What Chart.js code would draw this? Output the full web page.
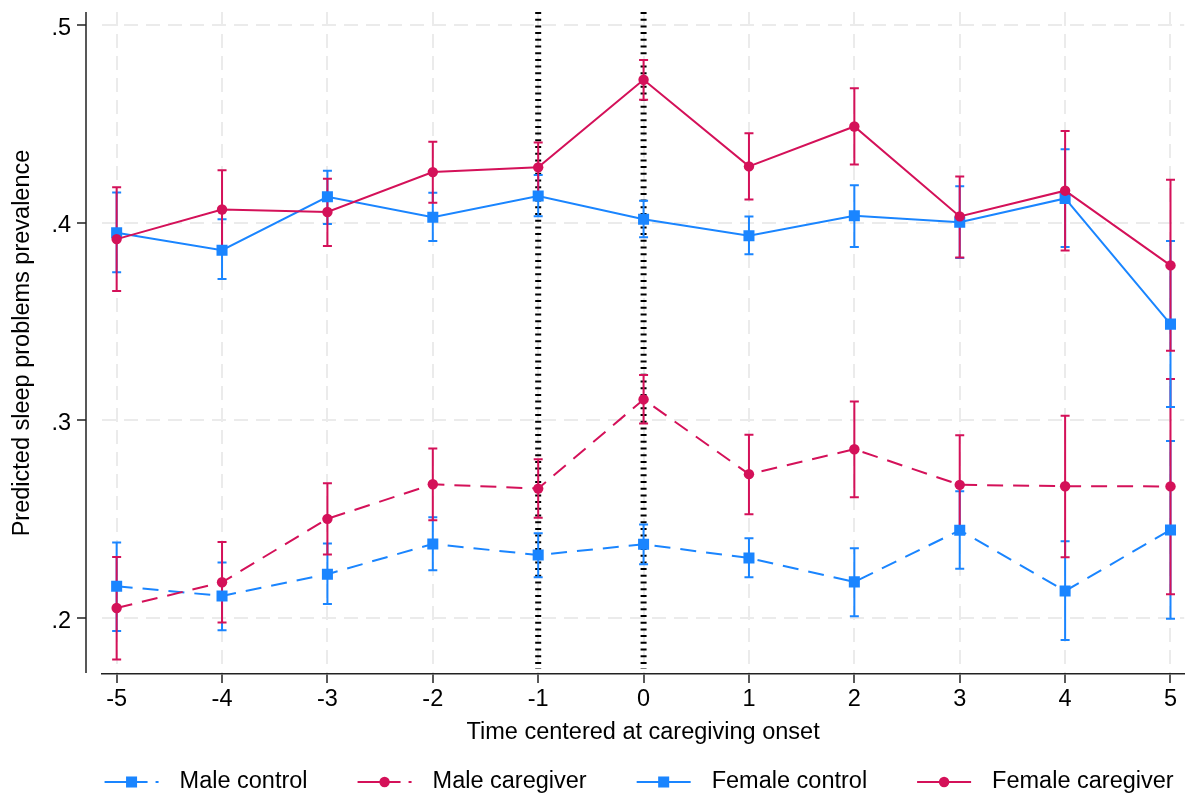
<!DOCTYPE html>
<html>
<head>
<meta charset="utf-8">
<script src="https://cdn.jsdelivr.net/npm/chart.js@4.4.1/dist/chart.umd.min.js"></script>
<style>
  html, body { margin: 0; padding: 0; background: #ffffff; }
  canvas { display: block; }
</style>
</head>
<body>
<canvas id="chart" width="1192" height="798"></canvas>
<script>
// Years relative to caregiving onset
const periods = [-5, -4, -3, -2, -1, 0, 1, 2, 3, 4, 5];

// Predicted prevalence of sleep problems with 95% confidence bounds
const maleControl      = [0.2161, 0.2112, 0.2222, 0.2375, 0.2319, 0.2373, 0.2304, 0.2183, 0.2444, 0.2137, 0.2446];
const maleControlLow   = [0.1935, 0.1938, 0.2071, 0.2242, 0.2206, 0.2272, 0.2206, 0.2009, 0.2249, 0.1889, 0.1996];
const maleControlHigh  = [0.2382, 0.2281, 0.2377, 0.2510, 0.2429, 0.2473, 0.2404, 0.2353, 0.2642, 0.2389, 0.2896];

const maleCaregiver     = [0.2051, 0.2181, 0.2502, 0.2677, 0.2655, 0.3106, 0.2728, 0.2854, 0.2674, 0.2667, 0.2666];
const maleCaregiverLow  = [0.1790, 0.1977, 0.2321, 0.2495, 0.2507, 0.2984, 0.2525, 0.2611, 0.2426, 0.2308, 0.2120];
const maleCaregiverHigh = [0.2309, 0.2385, 0.2682, 0.2858, 0.2804, 0.3229, 0.2927, 0.3096, 0.2925, 0.3023, 0.3209];

const femaleControl     = [0.3949, 0.3861, 0.4131, 0.4028, 0.4135, 0.4018, 0.3934, 0.4035, 0.4003, 0.4123, 0.3487];
const femaleControlLow  = [0.3750, 0.3715, 0.3993, 0.3908, 0.4033, 0.3927, 0.3840, 0.3877, 0.3822, 0.3877, 0.3068];
const femaleControlHigh = [0.4153, 0.4017, 0.4263, 0.4151, 0.4241, 0.4111, 0.4032, 0.4189, 0.4184, 0.4372, 0.3908];

const femaleCaregiver     = [0.3917, 0.4067, 0.4054, 0.4256, 0.4280, 0.4723, 0.4285, 0.4487, 0.4032, 0.4162, 0.3784];
const femaleCaregiverLow  = [0.3654, 0.3875, 0.3882, 0.4101, 0.4153, 0.4622, 0.4118, 0.4295, 0.3824, 0.3860, 0.3352];
const femaleCaregiverHigh = [0.4179, 0.4265, 0.4222, 0.4410, 0.4406, 0.4823, 0.4452, 0.4680, 0.4234, 0.4464, 0.4217];

// Axis ticks and reference lines
const yTicks = [0.2, 0.3, 0.4, 0.5];
const yTickLabels = ['.2', '.3', '.4', '.5'];
const referenceLines = [-1, 0];

const BLUE = '#1a85ff';
const RED = '#d41159';
const GRID = '#ebebeb';
const FONT = "'Liberation Sans', Arial, Helvetica, sans-serif";
const TEXT_SIZE = 23.5;
const SQUARE_R = 7.8;
const CIRCLE_R = 5.2;

function series(label, values, low, high, color, dashed, marker, order) {
  const r = marker === 'rect' ? SQUARE_R : CIRCLE_R;
  return {
    label,
    data: periods.map((t, i) => ({ x: t, y: values[i] })),
    ciLow: low,
    ciHigh: high,
    borderColor: color,
    backgroundColor: color,
    borderWidth: 2,
    borderDash: dashed ? [16, 10] : [],
    keyDash: dashed ? [43, 8] : [],
    pointStyle: marker,
    pointRadius: r,
    pointHoverRadius: r,
    pointBackgroundColor: color,
    pointBorderWidth: 0,
    tension: 0,
    fill: false,
    order
  };
}

const datasets = [
  series('Male control', maleControl, maleControlLow, maleControlHigh, BLUE, true, 'rect', 4),
  series('Male caregiver', maleCaregiver, maleCaregiverLow, maleCaregiverHigh, RED, true, 'circle', 3),
  series('Female control', femaleControl, femaleControlLow, femaleControlHigh, BLUE, false, 'rect', 2),
  series('Female caregiver', femaleCaregiver, femaleCaregiverLow, femaleCaregiverHigh, RED, false, 'circle', 1)
];

function drawMarker(ctx, style, r, x, y, color) {
  ctx.save();
  ctx.fillStyle = color;
  ctx.beginPath();
  if (style === 'rect') {
    const s = r * Math.SQRT1_2;
    ctx.rect(x - s, y - s, 2 * s, 2 * s);
  } else {
    ctx.arc(x, y, r, 0, Math.PI * 2);
  }
  ctx.fill();
  ctx.restore();
}

const decorations = {
  id: 'decorations',
  beforeDatasetsDraw(chart) {
    const { ctx, chartArea, scales: { x, y } } = chart;
    // dotted vertical reference lines
    ctx.save();
    ctx.strokeStyle = '#000';
    ctx.lineWidth = 6;
    ctx.setLineDash([2, 4.7]);
    referenceLines.forEach(v => {
      const px = x.getPixelForValue(v);
      ctx.beginPath();
      ctx.moveTo(px, chartArea.top);
      ctx.lineTo(px, chartArea.bottom - 5);
      ctx.stroke();
    });
    ctx.restore();

    // confidence interval caps
    ctx.save();
    ctx.setLineDash([]);
    ctx.lineWidth = 2;
    const cap = 4.5;
    chart.data.datasets.forEach(ds => {
      ctx.strokeStyle = ds.borderColor;
      periods.forEach((t, i) => {
        const px = x.getPixelForValue(t);
        const lo = y.getPixelForValue(ds.ciLow[i]);
        const hi = y.getPixelForValue(ds.ciHigh[i]);
        ctx.beginPath();
        ctx.moveTo(px, lo); ctx.lineTo(px, hi);
        ctx.moveTo(px - cap, lo); ctx.lineTo(px + cap, lo);
        ctx.moveTo(px - cap, hi); ctx.lineTo(px + cap, hi);
        ctx.stroke();
      });
    });
    ctx.restore();
  },
  afterDraw(chart) {
    const { ctx, chartArea, scales: { y } } = chart;
    // detached y axis line with outward ticks
    const axisX = chartArea.left - 16;
    ctx.save();
    ctx.strokeStyle = '#222';
    ctx.lineWidth = 1.5;
    ctx.beginPath();
    ctx.moveTo(axisX, chartArea.top);
    ctx.lineTo(axisX, chartArea.bottom - 1);
    yTicks.forEach(v => {
      const py = Math.round(y.getPixelForValue(v));
      ctx.moveTo(axisX, py);
      ctx.lineTo(axisX - 9, py);
    });
    ctx.stroke();
    ctx.restore();

    // legend row beneath the axis title
    ctx.save();
    ctx.font = TEXT_SIZE + 'px ' + FONT;
    const keyW = 54, keyGap = 21, itemGap = 50;
    const items = chart.data.datasets.map(ds => ({ ds, w: ctx.measureText(ds.label).width }));
    const total = items.reduce((s, it) => s + keyW + keyGap + it.w, 0) + itemGap * (items.length - 1);
    let cx = (chartArea.left + chartArea.right) / 2 - 4 - total / 2;
    const cy = 782;
    items.forEach(({ ds, w }) => {
      ctx.strokeStyle = ds.borderColor;
      ctx.lineWidth = 2;
      ctx.setLineDash(ds.keyDash);
      ctx.beginPath();
      ctx.moveTo(cx, cy);
      ctx.lineTo(cx + keyW, cy);
      ctx.stroke();
      ctx.setLineDash([]);
      drawMarker(ctx, ds.pointStyle, ds.pointRadius, cx + keyW / 2, cy, ds.borderColor);
      ctx.fillStyle = '#000';
      ctx.textAlign = 'left';
      ctx.textBaseline = 'middle';
      ctx.fillText(ds.label, cx + keyW + keyGap, cy);
      cx += keyW + keyGap + w + itemGap;
    });
    ctx.restore();
  }
};

new Chart(document.getElementById('chart'), {
  type: 'line',
  data: { datasets },
  plugins: [decorations],
  options: {
    responsive: false,
    animation: false,
    devicePixelRatio: 1,
    layout: { padding: { left: 0, right: 4, top: 12, bottom: 0 } },
    plugins: { legend: { display: false }, tooltip: { enabled: false } },
    scales: {
      x: {
        type: 'linear',
        bounds: 'data',
        min: -5.139,
        max: 5.13,
        afterBuildTicks: s => { s.ticks = periods.map(v => ({ value: v })); },
        afterFit: s => { s.height = 124; },
        grid: { color: GRID, lineWidth: 2, drawTicks: true, tickLength: 9, tickColor: '#222', tickWidth: 1.5 },
        border: { display: true, color: '#222', width: 1.5, dash: [14, 8] },
        ticks: {
          color: '#000',
          font: { family: FONT, size: TEXT_SIZE, lineHeight: 1 },
          padding: 5,
          maxRotation: 0,
          callback: v => String(v)
        },
        title: {
          display: true,
          text: 'Time centered at caregiving onset',
          color: '#000',
          font: { family: FONT, size: TEXT_SIZE },
          padding: { top: 0, bottom: 51 }
        }
      },
      y: {
        type: 'linear',
        bounds: 'data',
        min: 0.1717,
        max: 0.5066,
        afterBuildTicks: s => { s.ticks = yTicks.map(v => ({ value: v })); },
        afterFit: s => { s.width = 102; },
        grid: { color: GRID, lineWidth: 2, drawTicks: true, tickLength: 31, tickColor: 'rgba(0,0,0,0)' },
        border: { display: false, dash: [14, 8] },
        ticks: {
          color: '#000',
          font: { family: FONT, size: TEXT_SIZE, lineHeight: 1 },
          padding: 0,
          labelOffset: 3,
          callback: v => yTickLabels[yTicks.indexOf(v)]
        },
        title: {
          display: true,
          text: 'Predicted sleep problems prevalence',
          color: '#000',
          font: { family: FONT, size: TEXT_SIZE },
          padding: { top: 8, bottom: 0 }
        }
      }
    }
  }
});
</script>
</body>
</html>
